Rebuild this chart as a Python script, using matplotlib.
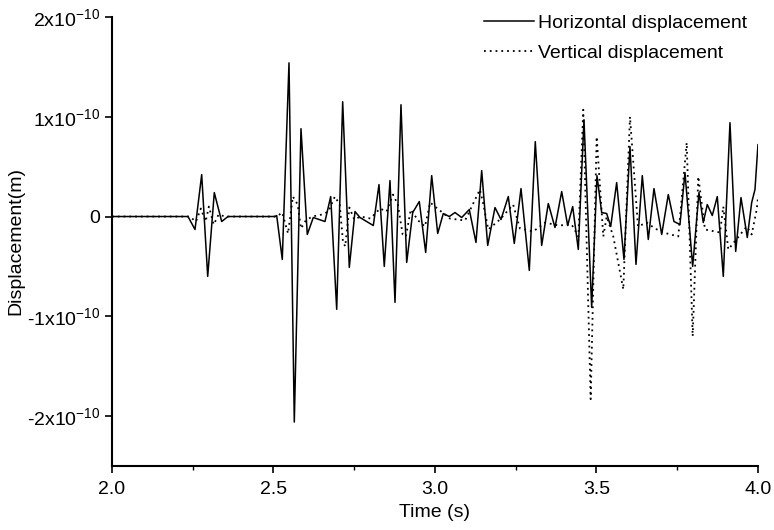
import matplotlib.pyplot as plt
import numpy as np

# ==========================================================
# DATA  (displacement in units of 1e-10 m)
# ==========================================================

t_h = [2.0, 2.2353, 2.2570, 2.2777, 2.2963, 2.3167, 2.3396, 2.3591,
       2.5046, 2.5099, 2.5272, 2.5480, 2.5644, 2.5851, 2.6046, 2.6232,
       2.6594, 2.6771, 2.6957, 2.7142, 2.7347, 2.7523, 2.7678, 2.8090,
       2.8266, 2.8430, 2.8607, 2.8762, 2.8947, 2.9124, 2.9310, 2.9514,
       2.9712, 2.9898, 3.0084, 3.0257, 3.0443, 3.0619, 3.0827, 3.1062,
       3.1269, 3.1446, 3.1632, 3.1858, 3.2043, 3.2269, 3.2455, 3.2663,
       3.2920, 3.3105, 3.3303, 3.3508, 3.3715, 3.3923, 3.4108, 3.4263,
       3.4437, 3.4613, 3.4851, 3.5015, 3.5161, 3.5316, 3.5440, 3.5625,
       3.5851, 3.6037, 3.6223, 3.6418, 3.6604, 3.6780, 3.7019, 3.7223,
       3.7399, 3.7585, 3.7740, 3.7978, 3.8173, 3.8306, 3.8430, 3.8585,
       3.8740, 3.8926, 3.9133, 3.9310, 3.9474, 3.9669, 3.9805, 3.9907,
       4.0]
h = [0.0, 0.0, -0.13, 0.42, -0.60, 0.24, -0.05, 0.0,
     0.0, 0.01, -0.43, 1.54, -2.06, 0.88, -0.18, -0.01,
     -0.05, 0.20, -0.93, 1.15, -0.51, 0.05, -0.01, -0.09,
     0.32, -0.50, 0.36, -0.86, 1.12, -0.46, 0.04, 0.15,
     -0.36, 0.41, -0.17, 0.03, 0.0, 0.04, -0.01, 0.07,
     -0.26, 0.46, -0.29, 0.09, -0.03, 0.20, -0.27, 0.28,
     -0.54, 0.75, -0.29, 0.13, -0.11, 0.25, -0.09, 0.10,
     -0.33, 0.97, -0.91, 0.41, 0.04, 0.03, -0.10, 0.34,
     -0.43, 0.70, -0.48, 0.41, -0.23, 0.28, -0.18, 0.22,
     -0.05, -0.08, 0.44, -0.50, 0.24, -0.06, 0.12, 0.01,
     0.20, -0.60, 0.94, -0.35, 0.19, -0.21, 0.14, 0.27,
     0.72]

t_v = [2.0, 2.24, 2.26, 2.275, 2.29, 2.30, 2.315, 2.33, 2.35,
       2.51, 2.527, 2.545, 2.56, 2.575, 2.585, 2.60, 2.62, 2.65,
       2.67, 2.69, 2.705, 2.715, 2.722, 2.735, 2.75, 2.77, 2.80,
       2.83, 2.85, 2.87, 2.885, 2.90, 2.91, 2.925, 2.948, 2.969,
       2.985, 3.0, 3.046, 3.093, 3.139, 3.148, 3.165, 3.201, 3.242,
       3.263, 3.304, 3.341, 3.382, 3.423, 3.444, 3.4591, 3.4820,
       3.5006, 3.5211, 3.5316, 3.5520, 3.5830, 3.6037, 3.6285,
       3.6554, 3.6811, 3.7068, 3.7533, 3.7793, 3.7978, 3.8152,
       3.8359, 3.8824, 3.8926, 3.9081, 3.9650, 3.9805, 3.9960, 4.0]
v = [0.0, 0.0, -0.05, 0.08, -0.05, 0.10, -0.08, 0.02, 0.0,
     0.0, 0.04, -0.17, 0.20, 0.12, -0.12, -0.04, 0.0, 0.02,
     0.05, 0.20, 0.12, -0.25, -0.30, 0.09, -0.03, 0.0, -0.02,
     0.08, 0.05, 0.22, 0.12, -0.18, -0.20, 0.07, -0.04, -0.10,
     0.14, 0.10, -0.02, -0.04, 0.27, 0.15, -0.13, -0.03, 0.12,
     -0.12, -0.15, -0.06, -0.09, -0.08, -0.20, 1.07, -1.83,
     0.80, -0.20, 0.0, -0.20, -0.73, 1.00, -0.10,
     -0.06, -0.12, -0.16, -0.20, 0.74, -1.20, 0.40,
     -0.13, -0.16, 0.10, -0.33, -0.10, -0.18, 0.07, 0.19]

y_ticks = [2, 1, 0, -1, -2]
y_tick_labels = [r"2x10$^{-10}$", r"1x10$^{-10}$", "0",
                 r"-1x10$^{-10}$", r"-2x10$^{-10}$"]

# ==========================================================
# PLOT
# ==========================================================

plt.rcParams.update({
    "font.family": "Liberation Sans",
    "font.size": 14,
    "mathtext.fontset": "custom",
    "mathtext.rm": "Liberation Sans",
    "mathtext.it": "Liberation Sans:italic",
    "mathtext.bf": "Liberation Sans:bold",
})

fig = plt.figure(figsize=(7.74, 5.30), dpi=100)
ax = fig.add_axes([0.1447, 0.1208, 0.8346, 0.8472])

ax.plot(t_h, h, color="black", lw=1.1, label="Horizontal displacement")
ax.plot(t_v, v, color="black", lw=1.3, ls=(0, (1, 2.2)),
        label="Vertical displacement")

# ==========================================================
# FORMAT
# ==========================================================

ax.set_xlim(2.0, 4.0)
ax.set_ylim(-2.5, 2.0)

ax.set_xticks([2.0, 2.5, 3.0, 3.5, 4.0])
ax.set_xticklabels(["2.0", "2.5", "3.0", "3.5", "4.0"])
ax.set_xticks([2.25, 2.75, 3.25, 3.75], minor=True)
ax.set_yticks(y_ticks)
ax.set_yticklabels(y_tick_labels)

ax.tick_params(which="major", direction="out", length=5, width=1.2)
ax.tick_params(axis="x", which="major", pad=6)
ax.tick_params(which="minor", direction="out", length=3, width=1.0)

for side in ["top", "right"]:
    ax.spines[side].set_visible(False)
for side in ["left", "bottom"]:
    ax.spines[side].set_linewidth(1.5)

ax.set_xlabel("Time (s)", labelpad=4)
ax.set_ylabel("Displacement(m)", labelpad=2)

ax.legend(
    loc="upper left",
    bbox_to_anchor=(0.61, 0.995),
    bbox_transform=fig.transFigure,
    frameon=False,
    handlelength=2.6,
    handletextpad=0.2,
    labelspacing=0.65,
    borderaxespad=0.2,
)

plt.savefig("out.png", dpi=100)
